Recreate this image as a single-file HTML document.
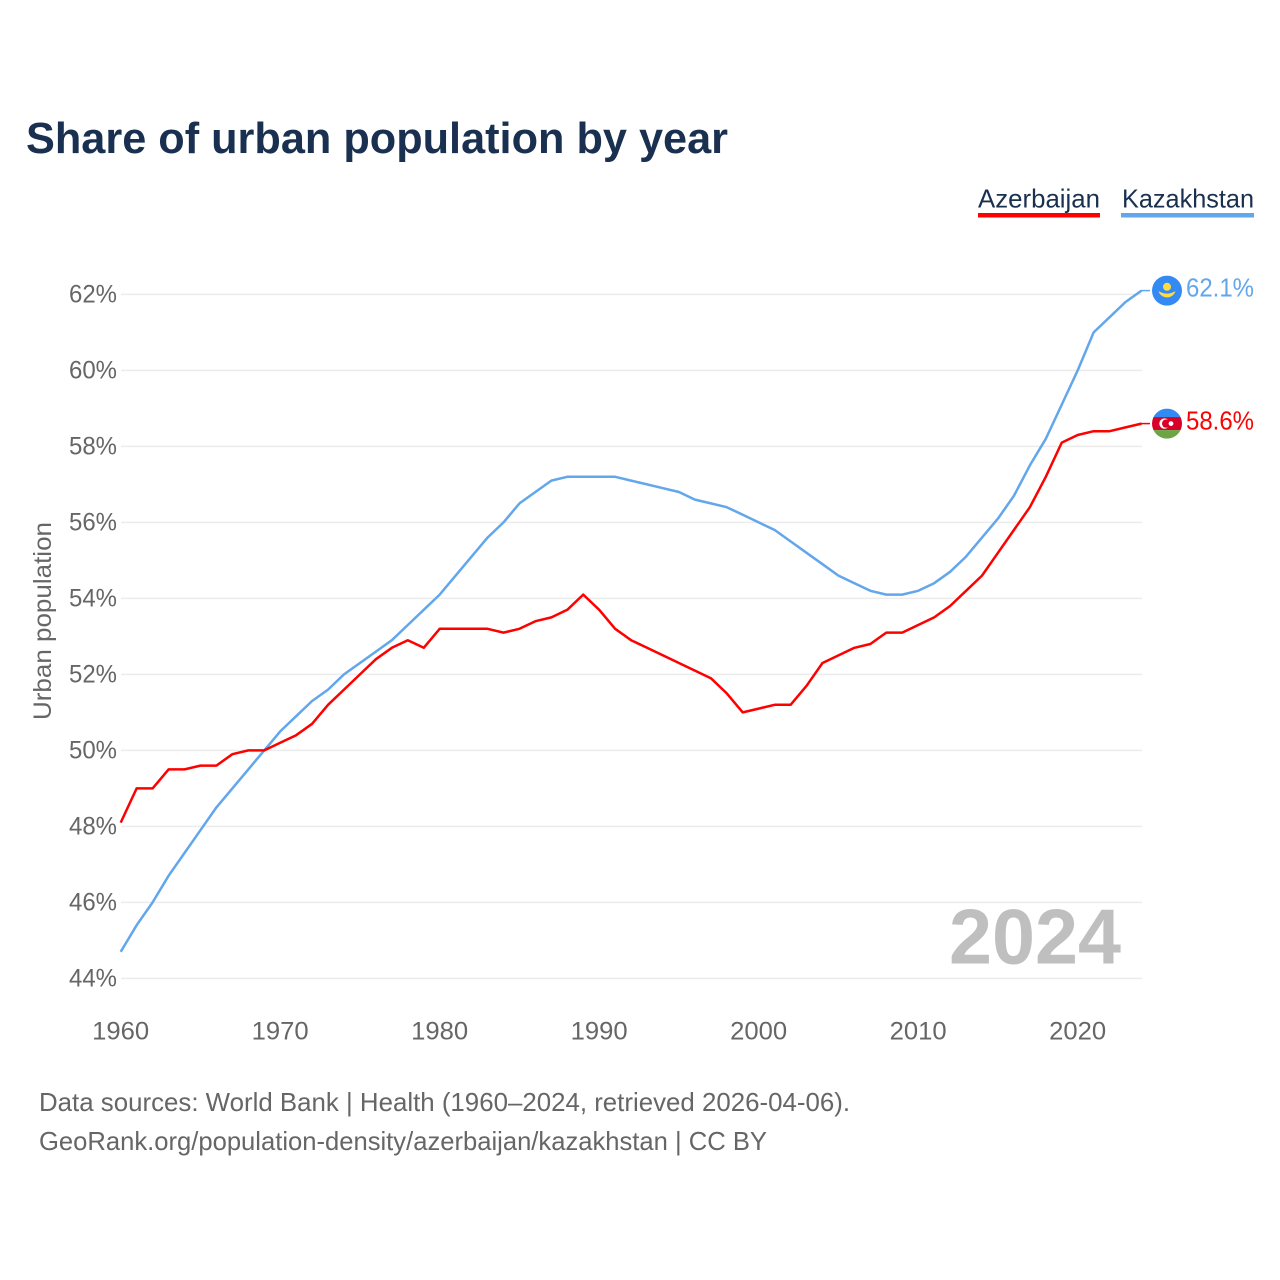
<!DOCTYPE html>
<html lang="en">
<head>
<meta charset="utf-8">
<title>Share of urban population by year</title>
<style>
html,body{margin:0;padding:0;background:#fff;width:1280px;height:1280px;overflow:hidden}
svg{display:block;font-family:"Liberation Sans",sans-serif}
</style>
</head>
<body>
<svg id="chart" width="1280" height="1280" viewBox="0 0 1280 1280" xmlns="http://www.w3.org/2000/svg">
  <defs>
    <clipPath id="flag-clip"><circle cx="0" cy="0" r="15"/></clipPath>
  </defs>
  <rect width="1280" height="1280" fill="#fff"/>
  <text x="26" y="153" font-size="44" font-weight="700" fill="#1a3050" textLength="702" lengthAdjust="spacingAndGlyphs">Share of urban population by year</text>

  <g>
    <g>
      <text x="978" y="207.500" font-size="26" fill="#1a3050" textLength="122" lengthAdjust="spacingAndGlyphs">Azerbaijan</text>
      <rect x="978" y="213" width="122" height="4.500" fill="#ff0000"/>
    </g>
    <g>
      <text x="1122" y="207.500" font-size="26" fill="#1a3050" textLength="132" lengthAdjust="spacingAndGlyphs">Kazakhstan</text>
      <rect x="1121" y="213" width="133" height="4.500" fill="#62a6ec"/>
    </g>
  </g>

  <g id="grid"></g>
  <g id="y-ticks"></g>
  <g id="x-ticks"></g>
  <text transform="translate(51,621) rotate(-90)" text-anchor="middle" font-size="25" fill="#666" textLength="198" lengthAdjust="spacingAndGlyphs">Urban population</text>

  <text x="949" y="963.500" font-size="78" font-weight="700" fill="#bfbfbf" textLength="172" lengthAdjust="spacingAndGlyphs">2024</text>

  <g id="series"></g>

  <g id="flag-kz">
    <g clip-path="url(#flag-clip)">
      <rect x="-15" y="-15" width="30" height="30" fill="#338af3"/>
      <circle cx="0" cy="-3.800" r="4" fill="#ffda44"/>
      <path d="M-8.500 0.500 C-5.500 2 -3 3 0 3 C3 3 5.500 2 8.500 0.500 C7.500 4.500 3.500 6.800 0 6.800 C-3.500 6.800 -7.500 4.500 -8.500 0.500Z" fill="#ffda44"/>
    </g>
  </g>
  <g id="flag-az">
    <g clip-path="url(#flag-clip)">
      <rect x="-15" y="-15" width="30" height="9" fill="#338af3"/>
      <rect x="-15" y="-6.500" width="30" height="13" fill="#d80027"/>
      <rect x="-15" y="6.500" width="30" height="9" fill="#6da544"/>
      <circle cx="-2.500" cy="0" r="5.200" fill="#fff"/>
      <circle cx="-0.800" cy="0" r="4.200" fill="#d80027"/>
      <circle cx="4" cy="0" r="2.400" fill="#fff"/>
    </g>
  </g>
  <text id="value-kz" x="1186" font-size="26" fill="#62a6ec" textLength="68" lengthAdjust="spacingAndGlyphs"></text>
  <text id="value-az" x="1186" font-size="26" fill="#ff0000" textLength="68" lengthAdjust="spacingAndGlyphs"></text>

  <text x="39" y="1111" font-size="26" fill="#666" textLength="811" lengthAdjust="spacingAndGlyphs">Data sources: World Bank | Health (1960–2024, retrieved 2026-04-06).</text>
  <text x="39" y="1150" font-size="26" fill="#666" textLength="728" lengthAdjust="spacingAndGlyphs">GeoRank.org/population-density/azerbaijan/kazakhstan | CC BY</text>
</svg>
<script>
const startYear = 1960;
const yTickValues = [44, 46, 48, 50, 52, 54, 56, 58, 60, 62];
const xTickValues = [1960, 1970, 1980, 1990, 2000, 2010, 2020];
const azerbaijan = [48.1,49.0,49.0,49.5,49.5,49.6,49.6,49.9,50.0,50.0,
  50.2,50.4,50.7,51.2,51.6,52.0,52.4,52.7,52.9,52.7,
  53.2,53.2,53.2,53.2,53.1,53.2,53.4,53.5,53.7,54.1,
  53.7,53.2,52.9,52.7,52.5,52.3,52.1,51.9,51.5,51.0,
  51.1,51.2,51.2,51.7,52.3,52.5,52.7,52.8,53.1,53.1,
  53.3,53.5,53.8,54.2,54.6,55.2,55.8,56.4,57.2,58.1,
  58.3,58.4,58.4,58.5,58.6];
const kazakhstan = [44.7,45.4,46.0,46.7,47.3,47.9,48.5,49.0,49.5,50.0,
  50.5,50.9,51.3,51.6,52.0,52.3,52.6,52.9,53.3,53.7,
  54.1,54.6,55.1,55.6,56.0,56.5,56.8,57.1,57.2,57.2,
  57.2,57.2,57.1,57.0,56.9,56.8,56.6,56.5,56.4,56.2,
  56.0,55.8,55.5,55.2,54.9,54.6,54.4,54.2,54.1,54.1,
  54.2,54.4,54.7,55.1,55.6,56.1,56.7,57.5,58.2,59.1,
  60.0,61.0,61.4,61.8,62.1];

const NS = 'http://www.w3.org/2000/svg';
function xScale(year) { return 120.700 + (year - 1960) * (1141.500 - 120.700) / 64; }
function yScale(value) { return 294.400 + (62 - value) * 38; }
function make(tag, attrs, parent) {
  const el = document.createElementNS(NS, tag);
  for (const k in attrs) el.setAttribute(k, attrs[k]);
  parent.appendChild(el);
  return el;
}

const gridGroup = document.getElementById('grid');
const yTickGroup = document.getElementById('y-ticks');
yTickValues.forEach(function (v) {
  const line = make('line', { x1: 121, x2: 1142, y1: yScale(v), y2: yScale(v), stroke: '#ececec', 'stroke-width': 1.500 }, gridGroup);
  
  
  const label = make('text', { x: 117, y: yScale(v) + 8, 'text-anchor': 'end', 'font-size': 25, fill: '#666', textLength: 48, lengthAdjust: 'spacingAndGlyphs' }, yTickGroup);
  
  
  label.textContent = v + '%';
});

const xTickGroup = document.getElementById('x-ticks');
xTickValues.forEach(function (yr) {
  const label = make('text', { x: xScale(yr), y: 1039.500, 'text-anchor': 'middle', 'font-size': 25, fill: '#666', textLength: 57, lengthAdjust: 'spacingAndGlyphs' }, xTickGroup);
  
  
  label.textContent = yr;
});

const seriesGroup = document.getElementById('series');
function drawSeries(values, color, name, flagId, labelId) {
  const pts = values.map(function (v, i) { return xScale(startYear + i).toFixed(2) + ',' + yScale(v).toFixed(2); }).join(' ');
  const lastY = yScale(values[values.length - 1]);
  const connector = make('line', { x1: 1141, x2: 1150, y1: lastY, y2: lastY, stroke: color, 'stroke-width': 1.500 }, seriesGroup);
  
  
  const line = make('polyline', { points: pts, fill: 'none', stroke: color, 'stroke-width': 2.500, 'stroke-linejoin': 'round' }, seriesGroup);
  
  
  document.getElementById(flagId).setAttribute('transform', 'translate(1167,' + lastY.toFixed(2) + ')');
  const label = document.getElementById(labelId);
  label.setAttribute('y', (lastY + 6).toFixed(2));
  label.textContent = values[values.length - 1].toFixed(1) + '%';
}
drawSeries(kazakhstan, '#62a6ec', 'kazakhstan', 'flag-kz', 'value-kz');
drawSeries(azerbaijan, '#ff0000', 'azerbaijan', 'flag-az', 'value-az');
</script>
</body>
</html>
